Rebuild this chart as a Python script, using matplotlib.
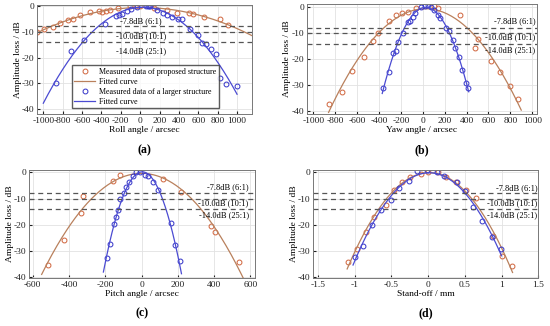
""" Amplitude loss vs misalignment: roll, yaw, pitch, stand-off """

import numpy as np
import matplotlib.pyplot as plt

plt.rcParams['font.family'] = ['Liberation Serif', 'DejaVu Serif']
plt.rcParams['axes.unicode_minus'] = False

# (a) Roll angle
roll_red_x = [-1060, -990, -895, -830, -740, -690, -625, -515, -430, -395, -350, -310,
              -225, -100, -40, 0, 140, 275, 380, 500, 550, 655, 825, 910]
roll_red_y = [-10.2, -9.0, -8.0, -6.7, -5.4, -5.0, -3.5, -2.4, -1.9, -2.3, -1.9, -1.6,
              -0.9, 0.1, 0.0, 0.0, -0.9, -1.6, -2.6, -2.8, -3.2, -4.4, -4.8, -7.4]
roll_blue_x = [-870, -715, -585, -365, -250, -220, -190, -140, -90, -30, 60, 80, 90, 100,
               170, 240, 275, 330, 395, 430, 515, 600, 640, 680, 735, 780, 825, 885, 995]
roll_blue_y = [-30.0, -17.5, -13.0, -6.8, -4.0, -3.6, -3.2, -2.0, -1.0, -0.3, 0.2, 0.2, 0.2, 0.1,
               -1.3, -2.6, -3.5, -4.1, -4.8, -5.0, -8.7, -11.3, -14.3, -14.9, -16.8, -18.8,
               -27.8, -30.2, -31.2]

# (b) Yaw angle
yaw_red_x = [-860, -740, -645, -540, -450, -405, -305, -245, -190, -135, -60, 100, 135,
             340, 505, 480, 620, 710, 800, 870]
yaw_red_y = [-37.2, -32.7, -24.4, -18.9, -12.9, -10.0, -5.2, -3.0, -2.3, -1.7, -0.4, 0.5,
             -0.4, -3.0, -12.3, -15.7, -20.8, -24.7, -30.2, -35.2]
yaw_blue_x = [-360, -310, -275, -245, -228, -184, -136, -115, -91, -70, -15, 20, 50, 76,
              106, 136, 160, 212, 242, 273, 297, 333, 357, 394, 418]
yaw_blue_y = [-31.0, -24.7, -17.4, -16.7, -13.2, -10.0, -5.5, -5.1, -3.6, -2.3, 0.3, 0.5, 0.9, 0.0,
              -1.0, -2.9, -4.2, -8.0, -9.0, -12.5, -15.7, -18.9, -24.0, -29.1, -31.0]

# (c) Pitch angle
pitch_red_x = [-515, -425, -336, -322, -156, -119, 116, 215, 385, 403, 537]
pitch_red_y = [-35.3, -25.9, -15.5, -8.9, -3.1, -1.1, -2.6, -7.5, -20.6, -23.0, -34.4]
pitch_blue_x = [-189, -174, -151, -141, -129, -116, -97, -83, -70, -46, -28, -9, 18, 36, 61, 91,
                160, 183, 211]
pitch_blue_y = [-32.7, -27.3, -19.6, -17.1, -14.3, -10.1, -7.7, -5.6, -3.8, -1.5, 0.0, 0.1, -0.9,
                -1.5, -3.8, -6.6, -19.4, -28.0, -34.0]

# (d) Stand-off
stand_red_x = [-1.09, -0.97, -0.845, -0.73, -0.57, -0.46, -0.35, -0.24, -0.10, 0.0, 0.13,
               0.24, 0.38, 0.52, 0.65, 0.88, 1.01, 1.14]
stand_red_y = [-34.2, -29.5, -22.7, -16.9, -12.5, -6.9, -3.5, -1.8, -0.5, 0.0, 0.1,
               -1.8, -3.5, -6.7, -9.9, -24.5, -31.9, -35.9]
stand_blue_x = [-1.0, -0.88, -0.76, -0.64, -0.51, -0.39, -0.26, -0.145, -0.01, 0.12, 0.22,
                0.39, 0.50, 0.61, 0.73, 0.87, 0.99]
stand_blue_y = [-32.3, -28.2, -20.1, -14.4, -10.5, -6.0, -3.1, 0.4, 0.8, 0.1, -1.3,
                -3.8, -7.3, -13.4, -18.6, -24.9, -29.5]

# ratio lines
ref_levels = [-7.8, -10.0, -14.0]
ref_labels = ['-7.8dB (6:1)', '-10.0dB (10:1)', '-14.0dB (25:1)']

red_mk = '#D0643C'
red_ln = '#B9805C'
blue_mk = '#3232C8'
blue_ln = '#4B4BD2'

panels = [
    dict(pos=[0.0673, 0.650, 0.391, 0.335], rx=roll_red_x, ry=roll_red_y, bx=roll_blue_x, by=roll_blue_y,
         rrange=(-1065, 1150), brange=(-1000, 1000), xlim=(-1065, 1155), ylim=(-42, 0.5),
         xticks=np.arange(-1000, 1001, 200), xlabel='Roll angle / arcsec', tag='(a)',
         tx=10, ty=[-6.0, -11.6, -17.6], ha='center'),
    dict(pos=[0.5576, 0.650, 0.418, 0.338], rx=yaw_red_x, ry=yaw_red_y, bx=yaw_blue_x, by=yaw_blue_y,
         rrange=(-860, 900), brange=(-370, 420), xlim=(-1060, 1040), ylim=(-41, 1.3),
         xticks=np.arange(-1000, 1001, 200), xlabel='Yaw angle / arcsec', tag='(b)',
         tx=1030, ty=[-5.5, -11.5, -16.4], ha='right'),
    dict(pos=[0.0533, 0.147, 0.410, 0.332], rx=pitch_red_x, ry=pitch_red_y, bx=pitch_blue_x, by=pitch_blue_y,
         rrange=(-550, 560), brange=(-210, 220), xlim=(-618, 624), ylim=(-40.5, 1),
         xticks=np.arange(-600, 601, 200), xlabel='Pitch angle / arcsec', tag='(c)',
         tx=590, ty=[-5.6, -11.7, -16.2], ha='right'),
    dict(pos=[0.5697, 0.147, 0.409, 0.332], rx=stand_red_x, ry=stand_red_y, bx=stand_blue_x, by=stand_blue_y,
         rrange=(-1.1, 1.15), brange=(-1.02, 1.0), xlim=(-1.56, 1.5), ylim=(-40.5, 1),
         xticks=[-1.5, -1, -0.5, 0, 0.5, 1, 1.5], xlabel='Stand-off / mm', tag='(d)',
         tx=1.49, ty=[-6.0, -11.8, -16.3], ha='right'),
]

fig = plt.figure(figsize=(5.5, 3.26), dpi=100)

for i, p in enumerate(panels):
    ax = fig.add_axes(p['pos'])
    ax.grid(True, color='#E2E2E2', linewidth=0.6)
    ax.set_axisbelow(True)

    # fitted curves (2nd order fit of measured data)
    cr = np.polyfit(p['rx'], p['ry'], 2)
    cb = np.polyfit(p['bx'], p['by'], 2)
    xr = np.linspace(*p['rrange'], 200)
    xb = np.linspace(*p['brange'], 200)

    ax.plot(p['rx'], p['ry'], 'o', mfc='none', mec=red_mk, ms=3.5, mew=0.7,
            label='Measured data of proposed structure')
    ax.plot(xr, np.polyval(cr, xr), color=red_ln, lw=0.9, label='Fitted curve')
    ax.plot(p['bx'], p['by'], 'o', mfc='none', mec=blue_mk, ms=3.5, mew=0.7,
            label='Measured data of a larger structure')
    ax.plot(xb, np.polyval(cb, xb), color=blue_ln, lw=0.9, label='Fitted curve')

    for lvl, lab, ty in zip(ref_levels, ref_labels, p['ty']):
        ax.axhline(lvl, color='#555555', lw=0.9, ls=(0, (4, 3)))
        ax.text(p['tx'], ty, lab, ha=p['ha'], va='center', fontsize=6)

    ax.set_xlim(*p['xlim'])
    ax.set_ylim(*p['ylim'])
    ax.set_xticks(p['xticks'])
    ax.set_yticks([0, -10, -20, -30, -40])
    if i == 3:
        ax.set_xticklabels(['-1.5', '-1', '-0.5', '0', '0.5', '1', '1.5'])
    ax.tick_params(direction='in', length=2, labelsize=6.8, pad=2, colors='#222222')
    for s in ax.spines.values():
        s.set_color('#777777')
        s.set_linewidth(0.7)
    ax.set_xlabel(p['xlabel'], fontsize=6.8, labelpad=1)
    ax.set_ylabel('Amplitude loss / dB', fontsize=6.8, labelpad=0)
    ax.text(0.5, -0.33, p['tag'], transform=ax.transAxes, ha='center', va='center',
            fontsize=8.5, fontweight='bold')

    if i == 0:
        ax.legend(loc='lower left', bbox_to_anchor=(0.163, 0.055), fontsize=5.8,
                  frameon=True, fancybox=False, edgecolor='#333333', handlelength=2.6,
                  borderpad=0.3, labelspacing=0.25, handletextpad=0.5, borderaxespad=0)

fig.savefig('out.png', dpi=100)
